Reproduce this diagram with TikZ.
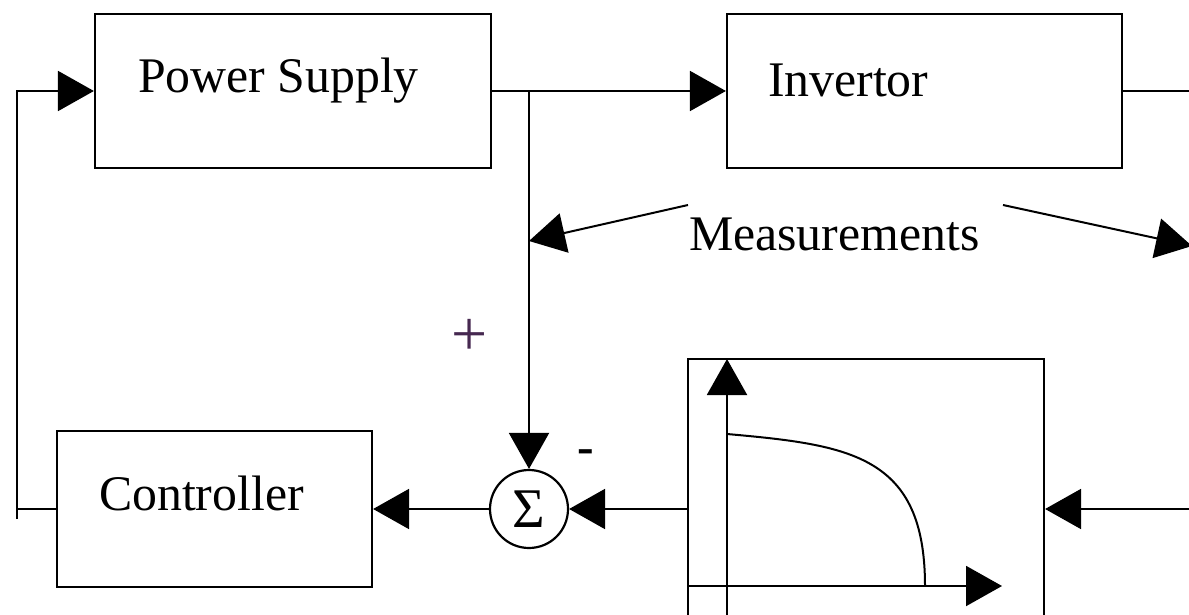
\documentclass[tikz,border=0pt]{standalone}
\usepackage{fontspec}
\setmainfont{Liberation Serif}
\usetikzlibrary{arrows.meta,positioning}
\definecolor{plusclr}{RGB}{70,40,80}

\begin{document}
\begin{tikzpicture}[x=0.5pt,y=-0.5pt,line width=1pt,
  >={Triangle[length=18pt,width=20pt]},
  block/.style={draw,line width=1.1pt,inner sep=0pt},
  lbl/.style={font=\fontsize{24.9}{30}\selectfont,inner sep=0pt,anchor=base west}]
\clip (0,0) rectangle (1189,615);
% blocks
\node[block,minimum width=198pt,minimum height=77pt] (supply) at (293,91) {};
\node[block,minimum width=197.5pt,minimum height=77pt] (inv) at (924.5,91) {};
\node[block,minimum width=157.5pt,minimum height=78pt] (ctrl) at (214.5,509) {};
\node[block,minimum width=178pt,minimum height=150pt] (curve) at (866,509) {};
\node[draw,circle,line width=1.1pt,minimum size=39pt,inner sep=0pt,
  font=\fontsize{28}{30}\selectfont] (sum) at (529,509) {Σ};
% texts
\node[lbl] (supplytxt) at (137,93) {Power Supply};
\node[lbl] (invtxt) at (767,97) {Invertor};
\node[lbl] (ctrltxt) at (98,510) {Controller};
\node[lbl] (meas) at (688,250) {Measurements};
\node[lbl,anchor=center,font=\fontsize{32}{34}\selectfont,text=plusclr] (plus) at (470,337) {+};
\node[lbl,anchor=center] (minus) at (586,457) {\textbf{-}};
% free ends
\coordinate (fbtop) at (17,91);
\coordinate (fbend) at (17,519);
\coordinate (tap) at (529,91);
\coordinate (outinv) at (1189,91);
\coordinate (inright) at (1189,509);
\coordinate (m1) at (688,205);
\coordinate (m1tip) at (529,241);
\coordinate (m2) at (1003,205);
\coordinate (m2tip) at (1192,246);
% connectors
\draw[->] (fbend) -- (fbtop) -- (supply.west);
\draw (ctrl.west) -- (ctrl.west -| fbend);
\draw[->] (supply.east) -- (inv.west);
\draw (inv.east) -- (outinv);
\draw[->] (tap) -- (sum.north);
\draw[->] (sum.west) -- (ctrl.east);
\draw[->] (curve.west) -- (sum.east);
\draw[->] (inright) -- (curve.east);
\draw[->] (m1) -- (m1tip);
\draw[->] (m2) -- (m2tip);
% characteristic
\draw[->] (727,640) -- (727,359);
\draw[->] (688,586) -- (1002,586);
\draw (727,434) .. controls (850,445) and (925,455) .. (925,586);
\end{tikzpicture}
\end{document}
